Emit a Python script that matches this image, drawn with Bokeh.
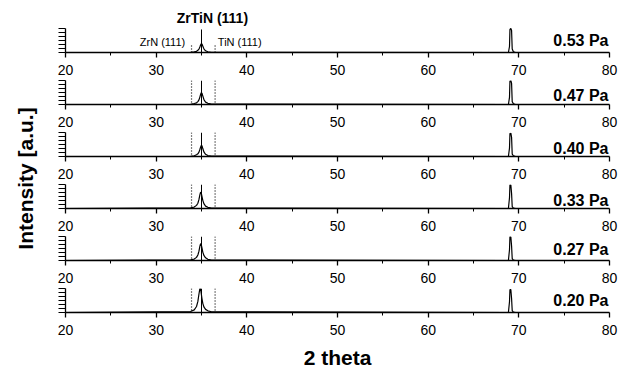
from math import pi
from bokeh.plotting import figure
from bokeh.models import Range1d, FixedTicker, Span
from bokeh.layouts import column, row
from bokeh.embed import file_html
from bokeh.resources import INLINE
from bokeh.core.properties import value

# ---------------- data ----------------
TWO_THETA = [20.0, 33.8, 34.2, 34.45, 34.6, 34.72, 34.82, 34.9, 34.97, 35.05, 35.15,
             35.28, 35.45, 35.7, 36.1,
             68.85, 68.97, 69.02, 69.12, 69.2, 69.27, 69.4, 69.6, 80.0]

I_053 = [0, 1, 3, 5, 9, 14, 23, 31, 36, 35, 26, 14, 7, 3, 1,
         0, 25, 96, 100, 92, 15, 3, 1, 0]
I_047 = [0, 1, 4, 7, 12, 19, 31, 42, 49, 47, 35, 19, 10, 5, 2,
         0, 30, 98, 100, 88, 12, 3, 1, 0]
I_040 = [0, 1, 3, 7, 11, 18, 29, 39, 46, 45, 32, 18, 9, 4, 2,
         0, 35, 96, 97, 80, 10, 3, 1, 0]
I_033 = [0, 3, 6, 13, 22, 38, 57, 68, 65, 51, 33, 19, 10, 5, 2,
         0, 45, 99, 98, 62, 8, 2, 1, 0]
I_027 = [0, 3, 6, 13, 23, 39, 59, 70, 67, 53, 34, 20, 11, 5, 2,
         0, 45, 100, 98, 60, 8, 2, 1, 0]
I_020 = [0, 4, 11, 25, 46, 77, 100, 98, 80, 58, 37, 22, 13, 7, 3,
         0, 45, 96, 95, 58, 8, 2, 1, 0]

SERIES = [I_053, I_047, I_040, I_033, I_027, I_020]
PRESSURES = ["0.53 Pa", "0.47 Pa", "0.40 Pa", "0.33 Pa", "0.27 Pa", "0.20 Pa"]
LABEL_Y = [50, 38, 33, 33, 46, 52]

X_TICKS = [20, 30, 40, 50, 60, 70, 80]
X_MINOR = [25, 35, 45, 55, 65, 75]
Y_MINOR = [0, 16.7, 33.3, 50, 66.7, 83.3, 100]

ZRN_POS = 33.9
ZRTIN_POS = 35.0
TIN_POS = 36.5

FONT = "Liberation Sans"

# ---------------- panels ----------------
AXIS_H = 28
FRAME_H = 24
TOP_FRAME_H = 52
TOTAL_H = 372


def make_panel(i):
    first = i == 0
    last = i == len(SERIES) - 1
    frame_h = TOP_FRAME_H if first else FRAME_H
    if last:
        bottom = TOTAL_H - (TOP_FRAME_H + AXIS_H) - (len(SERIES) - 2) * (FRAME_H + AXIS_H) - FRAME_H
    else:
        bottom = AXIS_H
    ytop = 100.0 * frame_h / FRAME_H
    p = figure(width=567, height=frame_h + bottom,
               x_range=Range1d(20, 80),
               y_range=Range1d(0, ytop),
               output_backend="svg", toolbar_location=None,
               min_border_left=14, min_border_right=9,
               min_border_top=0, min_border_bottom=bottom)
    p.outline_line_color = None
    p.grid.visible = False
    p.background_fill_color = "white"
    p.border_fill_color = "white"

    xa = p.xaxis[0]
    xa.ticker = FixedTicker(ticks=X_TICKS, minor_ticks=X_MINOR)
    xa.major_tick_out = 5
    xa.major_tick_in = 0
    xa.minor_tick_out = 3
    xa.minor_tick_in = 0
    xa.axis_line_width = 1.6
    xa.major_tick_line_width = 1.3
    xa.major_label_text_font = FONT
    xa.major_label_text_font_size = "14px"
    xa.major_label_text_color = "black"
    xa.major_label_standoff = 7
    if last:
        xa.axis_label = "2 theta"
        xa.axis_label_text_font = FONT
        xa.axis_label_text_font_size = "21px"
        xa.axis_label_text_font_style = "bold"
        xa.axis_label_text_color = "black"
        xa.axis_label_standoff = 8

    ya = p.yaxis[0]
    ya.ticker = FixedTicker(ticks=[], minor_ticks=Y_MINOR)
    ya.bounds = (0, 100)
    ya.minor_tick_out = 7
    ya.minor_tick_in = 0
    ya.major_tick_out = 0
    ya.major_tick_in = 0
    ya.major_label_standoff = 0
    ya.axis_line_width = 1.3

    # reference lines
    if first:
        p.segment(x0=[ZRN_POS, TIN_POS], y0=[0, 0], x1=[ZRN_POS, TIN_POS], y1=[29, 29],
                  line_color="black", line_width=1.2, line_dash="1 2")
        p.segment(x0=[ZRTIN_POS], y0=[0], x1=[ZRTIN_POS], y1=[96],
                  line_color="black", line_width=1)
    else:
        for pos in (ZRN_POS, TIN_POS):
            p.add_layout(Span(location=pos, dimension="height", line_color="black",
                              line_width=1.2, line_dash="1 2"))
        p.add_layout(Span(location=ZRTIN_POS, dimension="height", line_color="black",
                          line_width=1))

    p.line(TWO_THETA, SERIES[i], line_color="black", line_width=1.2)

    p.text(x=[80], y=[LABEL_Y[i]], text=[PRESSURES[i]], text_align="right",
           text_baseline="alphabetic", text_font=value(FONT), text_font_style="bold",
           text_font_size="16px", text_color="black", x_offset=-1)

    if first:
        p.text(x=[36.2], y=[142], text=["ZrTiN (111)"], text_align="center",
               text_baseline="middle", text_font=value(FONT), text_font_style="bold",
               text_font_size="14px", text_color="black")
        p.text(x=[33.2], y=[44], text=["ZrN (111)"], text_align="right",
               text_baseline="middle", text_font=value(FONT),
               text_font_size="11px", text_color="black")
        p.text(x=[36.8], y=[44], text=["TiN (111)"], text_align="left",
               text_baseline="middle", text_font=value(FONT),
               text_font_size="11px", text_color="black")
    return p


panels = [make_panel(i) for i in range(len(SERIES))]

# left strip holding the y-axis title
left = figure(width=51, height=TOTAL_H, x_range=Range1d(0, 51), y_range=Range1d(0, TOTAL_H),
              x_axis_type=None, y_axis_type=None, output_backend="svg",
              toolbar_location=None, min_border=0)
left.outline_line_color = None
left.grid.visible = False
left.text(x=[25], y=[TOTAL_H - 178], text=["Intensity [a.u.]"], angle=pi / 2,
          text_align="center", text_baseline="middle", text_font=value(FONT),
          text_font_style="bold", text_font_size="21px", text_color="black")

layout = row(left, column(*panels, spacing=0), spacing=0)

open("out.html", "w").write(file_html(layout, INLINE))
